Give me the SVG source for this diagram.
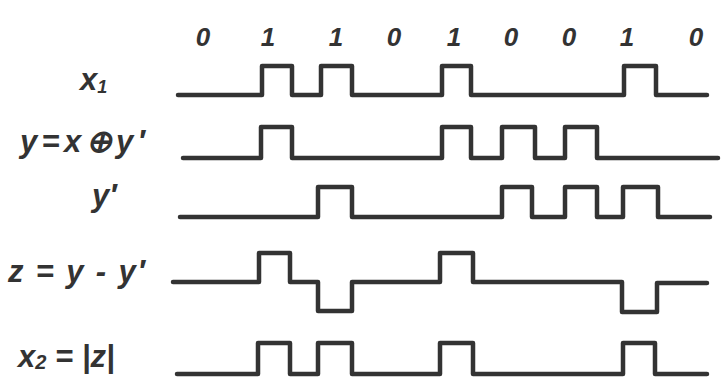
<svg xmlns="http://www.w3.org/2000/svg" width="723" height="384" viewBox="0 0 723 384">
<style>
.bg{fill:#ffffff}
.sig{fill:none;stroke:#333333;stroke-width:4.5;stroke-linejoin:round;stroke-linecap:round}
.lbl{font-family:"Liberation Sans",Arial,sans-serif;font-style:italic;font-weight:bold;font-size:31px;fill:#333333}
.bit{font-family:"Liberation Sans",Arial,sans-serif;font-style:italic;font-weight:bold;font-size:26px;fill:#333333;text-anchor:middle}
</style>
<rect class="bg" x="0" y="0" width="723" height="384"/>
<g id="bits">
<text class="bit" x="203" y="46">0</text>
<text class="bit" x="268" y="46">1</text>
<text class="bit" x="336" y="46">1</text>
<text class="bit" x="394" y="46">0</text>
<text class="bit" x="454" y="46">1</text>
<text class="bit" x="511" y="46">0</text>
<text class="bit" x="569" y="46">0</text>
<text class="bit" x="627" y="46">1</text>
<text class="bit" x="696" y="46">0</text>
</g>
<g id="row-x1">
<text class="lbl" x="80" y="90" font-size="28">x<tspan font-size="18" dy="3">1</tspan></text>
<path class="sig" d="M178 95 H262 V66 H292 V95 H321 V66 H352 V95 H442 V66 H471 V95 H624 V66 H656 V95 H707"/>
</g>
<g id="row-y">
<text class="lbl" x="20" y="152" textLength="125" lengthAdjust="spacing">y=x⊕y′</text>
<path class="sig" d="M183 158 H261 V127 H292 V158 H442 V127 H471 V158 H502 V127 H535 V158 H565 V127 H597 V158 H718"/>
</g>
<g id="row-yprime">
<text class="lbl" x="92" y="206">y′</text>
<path class="sig" d="M180 217 H318 V187 H352 V217 H502 V187 H532 V217 H565 V187 H597 V217 H623 V187 H658 V217 H710"/>
</g>
<g id="row-z">
<text class="lbl" x="8" y="282" font-size="32" textLength="137" lengthAdjust="spacing">z = y - y′</text>
<path class="sig" d="M173 282 H259 V253 H290 V282 H318 V311 H352 V282 H440 V253 H473 V282 H622 V312 H657 V283 H707"/>
</g>
<g id="row-x2">
<text class="lbl" x="18" y="367">x<tspan font-size="20" dy="2">2</tspan><tspan dy="-2"> = |z|</tspan></text>
<path class="sig" d="M177 374 H258 V343 H290 V374 H318 V343 H352 V374 H440 V343 H473 V374 H623 V343 H655 V374 H707"/>
</g>
<g id="connectors"></g>
</svg>
